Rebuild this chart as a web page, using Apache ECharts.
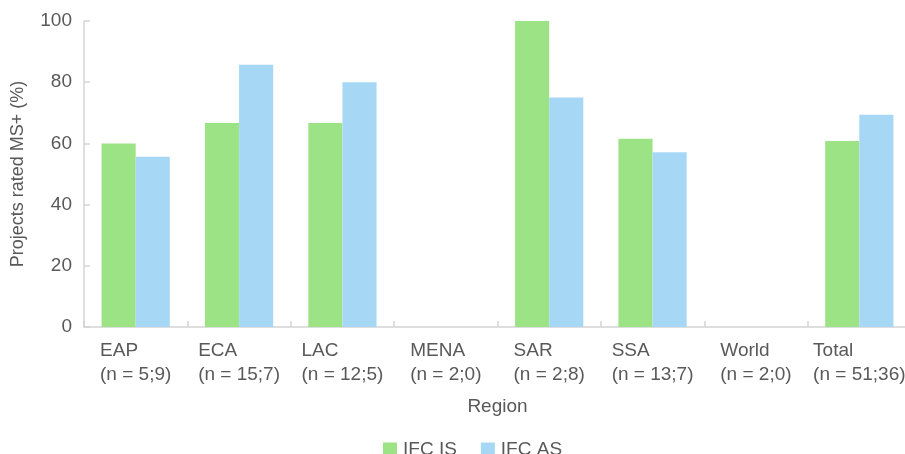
<!DOCTYPE html>
<html>
<head>
<meta charset="utf-8">
<script src="https://cdn.jsdelivr.net/npm/echarts@6/dist/echarts.min.js"></script>
<style>
html,body{margin:0;padding:0;background:#fff;overflow:hidden;}
#chart{width:905px;height:454px;}
</style>
</head>
<body>
<div id="chart"></div>
<script>
const regions = ['EAP', 'ECA', 'LAC', 'MENA', 'SAR', 'SSA', 'World', 'Total'];
const counts = ['(n = 5;9)', '(n = 15;7)', '(n = 12;5)', '(n = 2;0)', '(n = 2;8)', '(n = 13;7)', '(n = 2;0)', '(n = 51;36)'];
const ifcIS = [60.0, 66.7, 66.7, null, 100, 61.5, null, 60.8];
const ifcAS = [55.6, 85.7, 80.0, null, 75.0, 57.1, null, 69.4];
const yTicks = [0, 20, 40, 60, 80, 100];

const FONT = '"Liberation Sans", Arial, Helvetica, sans-serif';
const TXT = '#595959';
const AX = '#d4d4d4';
const FS = 19;

const categories = regions.map((r, i) => r + '|' + counts[i]);

const chart = echarts.init(document.getElementById('chart'), null, {renderer: 'canvas'});
chart.setOption({
  animation: false,
  backgroundColor: '#fff',
  textStyle: {fontFamily: FONT},
  grid: {left: 84, width: 827, top: 21, bottom: 127, containLabel: false, outerBoundsMode: 'none'},
  legend: {
    data: ['IFC IS', 'IFC AS'],
    top: 440,
    left: 383,
    padding: 0,
    itemWidth: 14,
    itemHeight: 14,
    itemGap: 24,
    icon: 'rect',
    textStyle: {fontSize: FS, color: TXT, fontFamily: FONT, padding: [0, 0, 0, 1]}
  },
  xAxis: {
    type: 'category',
    data: categories,
    name: 'Region',
    nameLocation: 'middle',
    nameGap: 70,
    nameTextStyle: {fontSize: FS, color: TXT, fontFamily: FONT},
    axisLine: {show: true, lineStyle: {color: AX, width: 1.5}},
    axisTick: {show: true, inside: true, length: 6, lineStyle: {color: AX, width: 1.5}},
    axisLabel: {
      interval: 0,
      margin: 12,
      color: TXT,
      fontSize: FS,
      fontFamily: FONT,
      formatter: function (v) {
        const p = v.split('|');
        return '{a|' + p[0] + '}\n{a|' + p[1] + '}';
      },
      rich: {
        a: {align: 'left', fontSize: FS, color: TXT, fontFamily: FONT, lineHeight: 24}
      }
    }
  },
  yAxis: {
    type: 'value',
    min: 0,
    max: 100,
    interval: 20,
    name: 'Projects rated MS+ (%)',
    nameLocation: 'middle',
    nameGap: 57,
    nameRotate: 90,
    nameTextStyle: {fontSize: 18, color: TXT, fontFamily: FONT},
    axisLine: {show: true, lineStyle: {color: AX, width: 1.5}},
    axisTick: {show: true, inside: true, length: 6, lineStyle: {color: AX, width: 1.5}},
    splitLine: {show: false},
    axisLabel: {
      margin: 12,
      color: TXT,
      fontSize: FS,
      fontFamily: FONT,
      customValues: yTicks
    }
  },
  series: [
    {
      name: 'IFC IS',
      type: 'bar',
      data: ifcIS,
      barGap: '0%',
      barCategoryGap: '34%',
      itemStyle: {color: '#9be384'}
    },
    {
      name: 'IFC AS',
      type: 'bar',
      data: ifcAS,
      barGap: '0%',
      barCategoryGap: '34%',
      itemStyle: {color: '#a6d8f6'}
    }
  ]
});
</script>
</body>
</html>
